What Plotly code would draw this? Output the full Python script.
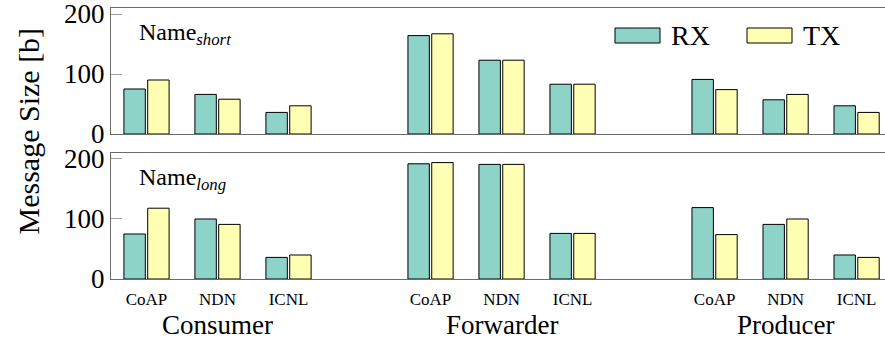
import plotly.graph_objects as go

# Message sizes in bytes per role and protocol
roles = ["Consumer", "Forwarder", "Producer"]
protocols = ["CoAP", "NDN", "ICNL"]

short_rx = [75, 66, 36, 164, 123, 83, 91, 57, 47]
short_tx = [90, 58, 47, 167, 123, 83, 74, 66, 36]
long_rx = [75, 100, 36, 192, 191, 76, 119, 91, 40]
long_tx = [118, 91, 40, 194, 191, 76, 74, 100, 36]

y_ticks = [0, 100, 200]

# numeric slots: three protocols per role, one empty slot between roles
xpos = [r * 4 + p for r in range(len(roles)) for p in range(len(protocols))]
xlabels = [p for _ in roles for p in protocols]
role_centers = [r * 4 + 1 for r in range(len(roles))]

RX_COLOR = "#8dd3c7"
TX_COLOR = "#ffffb3"
FONT = "Liberation Serif"
AX_COLOR = "#6b6b6b"
TICK_COLOR = "#a0a0a0"

fig = go.Figure()


def add_pair(rx, tx, xa, ya):
    for name, vals, color in (("RX", rx, RX_COLOR), ("TX", tx, TX_COLOR)):
        fig.add_trace(go.Bar(
            x=xpos, y=vals, name=name, xaxis=xa, yaxis=ya,
            marker=dict(color=color, line=dict(color="#000000", width=1)),
            showlegend=False,
        ))


add_pair(long_rx, long_tx, "x", "y")
add_pair(short_rx, short_tx, "x2", "y2")

yax_common = dict(
    range=[0, 210], tickvals=y_ticks, ticks="inside", ticklen=11,
    tickcolor=TICK_COLOR, tickwidth=1, showgrid=False, zeroline=False,
    showline=True, linecolor=AX_COLOR, linewidth=1,
    ticklabeloverflow="allow",
    tickfont=dict(family=FONT, size=27, color="#000"),
)
xax_common = dict(
    range=[-0.5, 10.4], showgrid=False, zeroline=False, showline=True,
    linecolor=AX_COLOR, linewidth=1, mirror=True, ticks="",
    tickvals=xpos, ticktext=xlabels,
    tickfont=dict(family=FONT, size=17, color="#000"),
)
right_ticks = dict(
    range=[0, 210], tickvals=y_ticks, ticks="inside", ticklen=6,
    tickcolor=TICK_COLOR, showticklabels=False, showgrid=False,
    zeroline=False, showline=False, side="right",
)

fig.update_layout(
    width=885, height=340,
    margin=dict(l=111, r=0, t=8, b=61),
    paper_bgcolor="white", plot_bgcolor="white",
    barmode="group", bargap=0.33, bargroupgap=0.1,
    font=dict(family=FONT, color="#000"),
    xaxis=dict(**xax_common, anchor="y", ticklabelstandoff=5),
    xaxis2=dict(**xax_common, anchor="y2", matches="x", showticklabels=False),
    yaxis=dict(**yax_common, domain=[0, 0.465], anchor="x"),
    yaxis2=dict(**yax_common, domain=[0.535, 1], anchor="x2"),
    yaxis3=dict(**right_ticks, overlaying="y", anchor="x"),
    yaxis4=dict(**right_ticks, overlaying="y2", anchor="x2"),
)

annotations = []
# role names under each group of bars
for name, cx in zip(roles, role_centers):
    annotations.append(dict(
        x=cx, y=-0.17, xref="x", yref="paper", text=name, showarrow=False,
        xanchor="center", yanchor="middle",
        font=dict(family=FONT, size=27, color="#000"),
    ))
# panel labels
annotations.append(dict(
    x=0.033, y=0.905, xref="paper", yref="paper",
    text="Name<sub><i>short</i></sub>", showarrow=False,
    xanchor="left", yanchor="middle",
    font=dict(family=FONT, size=24, color="#000"),
))
annotations.append(dict(
    x=0.033, y=0.37, xref="paper", yref="paper",
    text="Name<sub><i>long</i></sub>", showarrow=False,
    xanchor="left", yanchor="middle",
    font=dict(family=FONT, size=24, color="#000"),
))
# shared y-axis title
annotations.append(dict(
    x=-0.107, y=0.545, xref="paper", yref="paper", text="Message Size [b]",
    showarrow=False, textangle=-90, xanchor="center", yanchor="middle",
    font=dict(family=FONT, size=30, color="#000"),
))

# legend with wide swatches, top-right of the upper panel
shapes = []


def px_x(px):
    return (px - 111) / 774


def px_y(py):
    return (279 - py) / 271


for label, color, x0 in (("RX", RX_COLOR, 615), ("TX", TX_COLOR, 747)):
    shapes.append(dict(
        type="rect", xref="paper", yref="paper",
        x0=px_x(x0), x1=px_x(x0 + 45), y0=px_y(43), y1=px_y(28),
        fillcolor=color, line=dict(color="#000", width=1),
    ))
    annotations.append(dict(
        x=px_x(x0 + 54), y=px_y(35.5), xref="paper", yref="paper",
        text=label, showarrow=False, xanchor="left", yanchor="middle",
        font=dict(family=FONT, size=28, color="#000"),
    ))

fig.update_layout(annotations=annotations, shapes=shapes)

fig.write_html("out.html")
